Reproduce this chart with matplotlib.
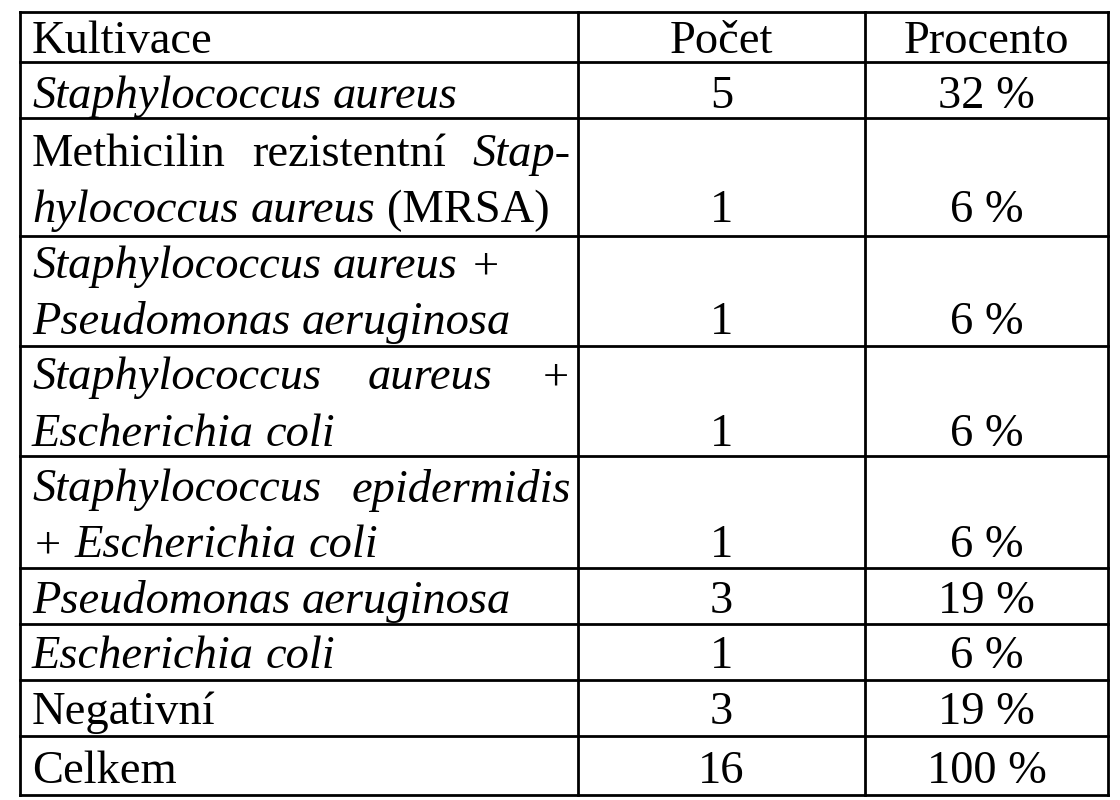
import matplotlib
matplotlib.use("Agg")
import matplotlib.pyplot as plt

# table content: each row = list of lines, each line = list of (word, italic)
header = ["Kultivace", "Počet", "Procento"]
kultivace = [
    [[("Staphylococcus", 1), ("aureus", 1)]],
    [[("Methicilin", 0), ("rezistentní", 0), ("Stap-", 1)],
     [("hylococcus", 1), ("aureus", 1), ("(MRSA)", 0)]],
    [[("Staphylococcus", 1), ("aureus", 1), ("+", 1)],
     [("Pseudomonas", 1), ("aeruginosa", 1)]],
    [[("Staphylococcus", 1), ("aureus", 1), ("+", 1)],
     [("Escherichia", 1), ("coli", 1)]],
    [[("Staphylococcus", 1), ("epidermidis", 1)],
     [("+", 1), ("Escherichia", 1), ("coli", 1)]],
    [[("Pseudomonas", 1), ("aeruginosa", 1)]],
    [[("Escherichia", 1), ("coli", 1)]],
    [[("Negativní", 0)]],
    [[("Celkem", 0)]],
]
justify = [[0], [1, 0], [0, 0], [1, 0], [1, 0], [0], [0], [0], [0]]
pocet = ["5", "1", "1", "1", "1", "3", "1", "3", "16"]
procento = ["32 %", "6 %", "6 %", "6 %", "6 %", "19 %", "6 %", "19 %", "100 %"]

row_edges = [12, 62, 118, 236, 346, 456, 568, 624, 680, 736, 795]
line_y = [[92], [150, 206], [262, 318], [373, 430], [485, 541], [597], [652], [708], [767]]
col_edges = [20, 578, 865, 1108]
fs = 33.5
fam = "Liberation Serif"

fig = plt.figure(figsize=(11.2, 8), dpi=100)
ax = fig.add_axes([0, 0, 1, 1])
ax.set_xlim(0, 1120)
ax.set_ylim(800, 0)
ax.axis("off")

for y in row_edges:
    ax.plot([col_edges[0], col_edges[-1]], [y, y], color="black", lw=2)
for x in col_edges:
    ax.plot([x, x], [row_edges[0], row_edges[-1]], color="black", lw=2)

fig.canvas.draw()
r = fig.canvas.get_renderer()

def width(s, it):
    t = ax.text(0, 0, s, fontsize=fs, family=fam, style="italic" if it else "normal")
    w = t.get_window_extent(r).width
    t.remove()
    return w

space = width("a b", 0) - width("ab", 0)
x0, x1 = 32, 571

ax.text(x0, 37, header[0], fontsize=fs, family=fam, va="center_baseline")
ax.text((col_edges[1] + col_edges[2]) / 2, 37, header[1], fontsize=fs, family=fam, ha="center", va="center_baseline")
ax.text((col_edges[2] + col_edges[3]) / 2, 37, header[2], fontsize=fs, family=fam, ha="center", va="center_baseline")

for i, lines in enumerate(kultivace):
    for j, words in enumerate(lines):
        y = line_y[i][j]
        ws = [width(w, it) for w, it in words]
        gap = space
        if justify[i][j] and len(words) > 1:
            gap = (x1 - x0 - sum(ws)) / (len(words) - 1)
        x = x0
        for (w, it), wd in zip(words, ws):
            ax.text(x, y, w, fontsize=fs, family=fam, style="italic" if it else "normal",
                    va="center_baseline")
            x += wd + gap
    yb = line_y[i][-1]
    ax.text((col_edges[1] + col_edges[2]) / 2, yb, pocet[i], fontsize=fs, family=fam, ha="center", va="center_baseline")
    ax.text((col_edges[2] + col_edges[3]) / 2, yb, procento[i], fontsize=fs, family=fam, ha="center", va="center_baseline")

fig.savefig("out.png", dpi=100)
